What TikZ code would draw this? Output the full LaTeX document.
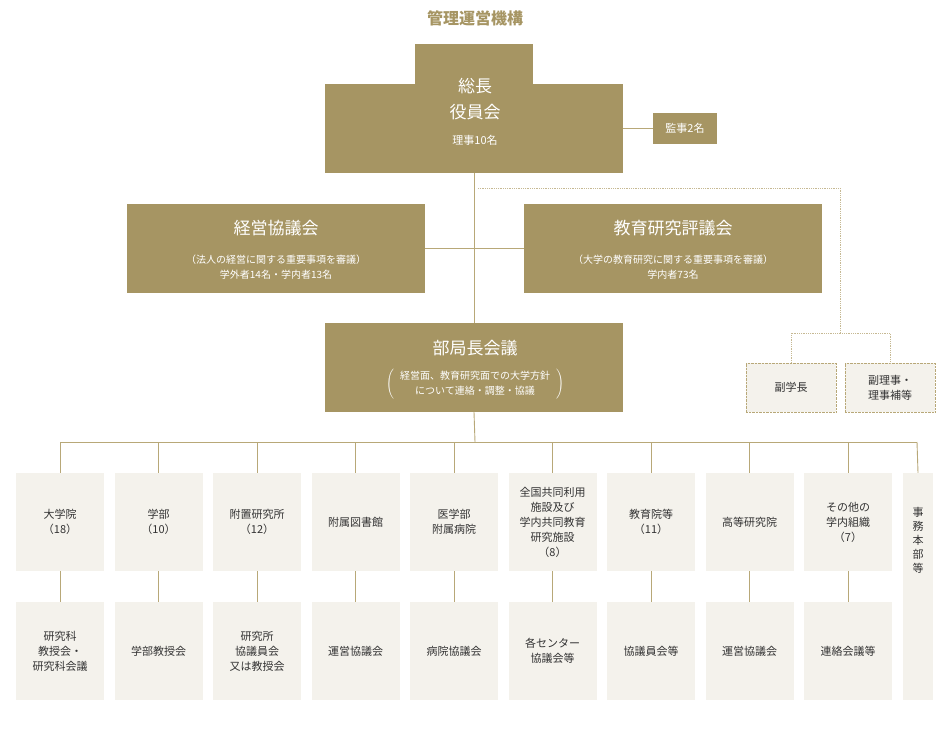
\documentclass[tikz,border=0pt]{standalone}
\usepackage{fontspec}
\setmainfont{Noto Sans CJK JP}
\usetikzlibrary{positioning}
\definecolor{gold}{HTML}{A69563}
\definecolor{paper}{HTML}{F4F2EC}
\definecolor{rule}{HTML}{B8A878}

\begin{document}
\begin{tikzpicture}[x=1pt, y=-1pt,
    gold_box/.style={fill=gold, draw=none, text=white, align=center, inner sep=0pt},
    pale_box/.style={fill=paper, draw=none, text=black!80, align=center, inner sep=0pt,
        minimum width=88pt, minimum height=98pt, font=\fontsize{11}{15}\selectfont},
    dot_box/.style={fill=paper, draw=rule, densely dotted, text=black!80, align=center,
        minimum width=90pt, minimum height=49pt, font=\fontsize{11}{15}\selectfont},
    link/.style={draw=rule, line width=0.9pt},
    dot_link/.style={draw=rule!80, densely dotted, line width=0.8pt}
]
\useasboundingbox (0,0) rectangle (950,731);

% 見出し
\node[text=gold, font=\fontsize{16}{18}\selectfont\bfseries] (title) at (475,18) {管理運営機構};

% 役員会
\fill[gold] (415,44) rectangle (533,85);
\node[gold_box, minimum width=298pt, minimum height=89pt] (board) at (474,128.5) {};
\node[text=white, align=center, font=\fontsize{17}{26}\selectfont] (pres) at (475,99) {総長\\役員会};
\node[text=white, font=\fontsize{11}{13}\selectfont] (dir) at (475,140) {理事10名};
\node[gold_box, minimum width=64pt, minimum height=31pt, font=\fontsize{11}{13}\selectfont] (audit) at (685,128.5) {監事2名};

% 協議会・評議会
\node[gold_box, minimum width=298pt, minimum height=89pt] (mgmt) at (276,248.5) {};
\node[text=white, font=\fontsize{17}{20}\selectfont] at (276,228) {経営協議会};
\node[text=white, align=center, font=\fontsize{10}{15}\selectfont] at (276,267) {（法人の経営に関する重要事項を審議）\\学外者14名・学内者13名};
\node[gold_box, minimum width=298pt, minimum height=89pt] (edu) at (673,248.5) {};
\node[text=white, font=\fontsize{17}{20}\selectfont] at (673,228) {教育研究評議会};
\node[text=white, align=center, font=\fontsize{10}{15}\selectfont] at (673,267) {（大学の教育研究に関する重要事項を審議）\\学内者73名};

% 部局長会議
\node[gold_box, minimum width=298pt, minimum height=89pt] (deans) at (474,367.5) {};
\node[text=white, font=\fontsize{17}{20}\selectfont] at (475,348) {部局長会議};
\node[text=white, font=\fontsize{10}{15}\selectfont] at (475,384)
    {$\left(\begin{tabular}{c}経営面、教育研究面での大学方針\\について連絡・調整・協議\end{tabular}\right)$};

% 副学長など
\node[dot_box] (vp) at (791,387.5) {副学長};
\node[dot_box] (vd) at (890,387.5) {副理事・\\理事補等};

% 結線
\draw[link] (board.east |- audit) -- (audit.west);
\draw[link] (board.south) -- (deans.north);
\draw[link] (mgmt.east) -- (edu.west);
\draw[dot_link] (478,188) -| (840,333);
\draw[dot_link] (vp.north) |- (840,333) -| (vd.north);
\coordinate (bus) at (475,442);
\draw[link] (deans.south) -- (bus);
\draw[link] (60,442) -- (917,442);

% 部局
\foreach \i/\up/\low in {
    0/{大学院\\（18）}/{研究科\\教授会・\\研究科会議},
    1/{学部\\（10）}/{学部教授会},
    2/{附置研究所\\（12）}/{研究所\\協議員会\\又は教授会},
    3/{附属図書館}/{運営協議会},
    4/{医学部\\附属病院}/{病院協議会},
    5/{全国共同利用\\施設及び\\学内共同教育\\研究施設\\（8）}/{各センター\\協議会等},
    6/{教育院等\\（11）}/{協議員会等},
    7/{高等研究院}/{運営協議会},
    8/{その他の\\学内組織\\（7）}/{連絡会議等}} {
    \pgfmathsetmacro{\cx}{60+98.5*\i}
    \node[pale_box] (up\i) at (\cx,522) {\up};
    \node[pale_box] (low\i) at (\cx,651) {\low};
    \draw[link] (\cx,442) -- (up\i.north);
    \draw[link] (up\i.south) -- (low\i.north);
}
\node[pale_box, minimum width=30pt, minimum height=227pt] (office) at (918,586.5) {};
\node[text=black!80, align=center, font=\fontsize{11}{14}\selectfont] at (918,540) {事\\務\\本\\部\\等};
\draw[link] (917,442) -- (office.north);
\end{tikzpicture}
\end{document}
